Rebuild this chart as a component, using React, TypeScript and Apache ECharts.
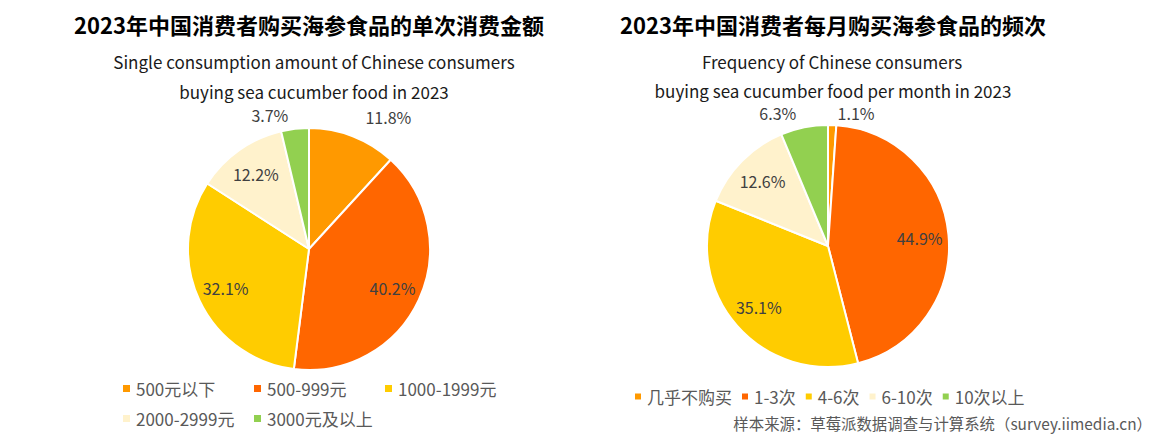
import React, { useEffect, useRef } from "react";
import * as echarts from "echarts";

const leftTitle = "2023年中国消费者购买海参食品的单次消费金额";
const leftSub1 = "Single consumption amount of Chinese consumers";
const leftSub2 = "buying sea cucumber food in 2023";
const rightTitle = "2023年中国消费者每月购买海参食品的频次";
const rightSub1 = "Frequency of Chinese consumers";
const rightSub2 = "buying sea cucumber food per month in 2023";
const sourceText = "样本来源：草莓派数据调查与计算系统（survey.iimedia.cn）";

const amountCategories = ["500元以下", "500-999元", "1000-1999元", "2000-2999元", "3000元及以上"];
const amountValues = [11.8, 40.2, 32.1, 12.2, 3.7];
const amountOutside = [true, false, false, false, true];
const amountLineLen = [21, 0, 0, 0, 14];

const freqCategories = ["几乎不购买", "1-3次", "4-6次", "6-10次", "10次以上"];
const freqValues = [1.1, 44.9, 35.1, 12.6, 6.3];
const freqOutside = [true, false, false, false, true];
const freqLineLen = [12, 0, 0, 0, 15];

const colors = ["#FF9900", "#FF6600", "#FFCC00", "#FFF2CC", "#92D050"];

const FONT = '"Noto Sans CJK SC", "Noto Sans", sans-serif';
const fmt = (p: any) => Number(p.value).toFixed(1) + "%";

function buildPies(
  cats: string[],
  vals: number[],
  outside: boolean[],
  lineLen: number[],
  center: [number, number]
) {
  const main = {
    type: "pie",
    center,
    radius: [0, 121],
    startAngle: 90,
    clockwise: true,
    avoidLabelOverlap: false,
    silent: true,
    itemStyle: { borderColor: "#ffffff", borderWidth: 2 },
    label: {
      show: false,
      formatter: fmt,
      color: "#404040",
      fontSize: 16,
      lineHeight: 16,
      fontFamily: FONT,
    },
    labelLine: { show: false },
    data: cats.map((name, i) => ({
      name,
      value: vals[i],
      itemStyle: { color: colors[i] },
      label: { show: outside[i], position: "outside" },
      labelLine: { show: false, length: lineLen[i], length2: 0 },
    })),
  };
  const overlay = {
    type: "pie",
    center,
    radius: [0, 178],
    startAngle: 90,
    clockwise: true,
    silent: true,
    avoidLabelOverlap: false,
    itemStyle: { color: "transparent", borderWidth: 0 },
    label: {
      show: true,
      position: "inside",
      formatter: fmt,
      color: "#404040",
      fontSize: 16,
      fontFamily: FONT,
    },
    labelLine: { show: false },
    data: cats.map((name, i) => ({
      name,
      value: vals[i],
      label: { show: !outside[i] },
    })),
  };
  return [main, overlay];
}

function textEl(text: string, x: number, y: number, size: number, bold: boolean, color: string, align = "center") {
  return {
    type: "text",
    x,
    y,
    silent: true,
    style: {
      text,
      fill: color,
      font: `${bold ? "bold " : ""}${size}px ${FONT}`,
      lineHeight: size,
      align,
      verticalAlign: "middle",
      textAlign: align,
      textVerticalAlign: "middle",
    },
  };
}

export default function App() {
  const ref = useRef<HTMLDivElement>(null);
  useEffect(() => {
    if (!ref.current) return;
    const chart = echarts.init(ref.current, undefined, { renderer: "svg" });
    const option: any = {
      animation: false,
      backgroundColor: "#ffffff",
      legend: [
        {
          data: amountCategories,
          left: 116,
          top: 374,
          width: 400,
          orient: "horizontal",
          icon: "rect",
          itemWidth: 9,
          itemHeight: 9,
          itemGap: 11,
          selectedMode: false,
          textStyle: {
            fontSize: 17,
            color: "#595959",
            fontFamily: FONT,
            width: 105,
            lineHeight: 19,
          },
        },
        {
          data: freqCategories,
          left: 628,
          top: 382,
          orient: "horizontal",
          icon: "rect",
          itemWidth: 8,
          itemHeight: 8,
          itemGap: 8,
          selectedMode: false,
          textStyle: {
            fontSize: 17,
            color: "#595959",
            fontFamily: FONT,
            lineHeight: 19,
          },
        },
      ],
      graphic: [
        textEl(leftTitle, 309, 24, 22, true, "#000000"),
        textEl(leftSub1, 314, 61, 17, false, "#1a1a1a"),
        textEl(leftSub2, 314, 91, 17, false, "#1a1a1a"),
        textEl(rightTitle, 833, 24, 22, true, "#000000"),
        textEl(rightSub1, 832, 61, 17, false, "#1a1a1a"),
        textEl(rightSub2, 833, 90, 17, false, "#1a1a1a"),
        textEl(sourceText, 1152, 423, 15.4, false, "#595959", "right"),
      ],
      series: [
        ...buildPies(amountCategories, amountValues, amountOutside, amountLineLen, [309, 249]),
        ...buildPies(freqCategories, freqValues, freqOutside, freqLineLen, [828, 246]),
      ],
    };
    chart.setOption(option);
    return () => chart.dispose();
  }, []);
  return (
    <div
      ref={ref}
      style={{ position: "fixed", left: 0, top: 0, width: 1164, height: 435 }}
    />
  );
}
